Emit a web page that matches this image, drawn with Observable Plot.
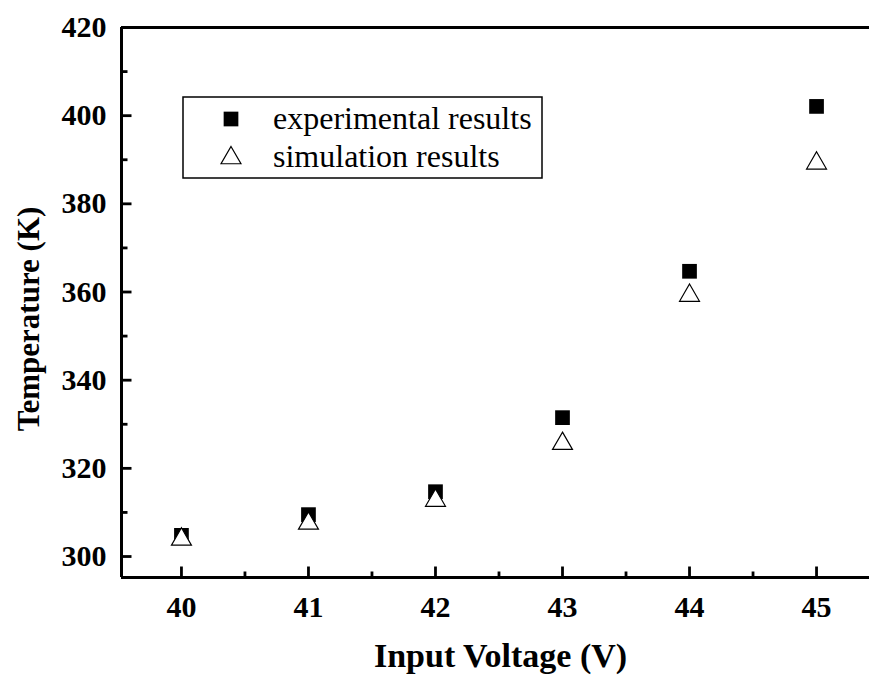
<!DOCTYPE html>
<html><head><meta charset="utf-8">
<script src="https://cdn.jsdelivr.net/npm/d3@7"></script>
<script src="https://cdn.jsdelivr.net/npm/@observablehq/plot@0.6"></script>
<style>body{margin:0;background:#fff;} svg{display:block;}</style>
</head><body><div id="chart"></div>
<script>
const voltage = [40, 41, 42, 43, 44, 45];
const experimental = [304.8, 309.5, 314.7, 331.5, 364.7, 402.1];
const simulation = [303.9, 307.5, 312.7, 325.6, 359.2, 389.2];
const seriesNames = ["experimental results", "simulation results"];
const xMajorTicks = [40, 41, 42, 43, 44, 45];
const xMinorTicks = [40.5, 41.5, 42.5, 43.5, 44.5];
const yMajorTicks = [300, 320, 340, 360, 380, 400, 420];
const yMinorTicks = [310, 330, 350, 370, 390, 410];
const xTitle = "Input Voltage (V)";
const yTitle = "Temperature (K)";

const xDomain = [39.528, 45.417];
const yDomain = [295.24, 420];

const expData = voltage.map((v, i) => ({v, t: experimental[i]}));
const simData = voltage.map((v, i) => ({v, t: simulation[i]}));

function lineSymbol(dx, dy) {
  return {draw(ctx) { ctx.moveTo(0, 0); ctx.lineTo(dx, dy); }};
}
const serif = "'Liberation Serif', 'Times New Roman', serif";
const fmt = d3.format("d");

const plot = Plot.plot({
  width: 869, height: 678,
  marginLeft: 121, marginRight: 0, marginTop: 27, marginBottom: 101,
  x: {domain: xDomain},
  y: {domain: yDomain},
  style: {fontFamily: serif, background: "#fff", color: "#000", overflow: "visible"},
  marks: [
    // tick labels
    Plot.axisX(xMajorTicks, {anchor: "bottom", tickSize: 0, tickPadding: 18, tickFormat: fmt, fontSize: 30, fontWeight: "bold", label: null}),
    Plot.axisY(yMajorTicks, {anchor: "left", tickSize: 0, tickPadding: 15, tickFormat: fmt, fontSize: 30, fontWeight: "bold", label: null}),
    // inward ticks
    Plot.dot(xMajorTicks, {x: d => d, y: () => yDomain[0], symbol: lineSymbol(0, -11), stroke: "#000", strokeWidth: 2.8, fill: "none"}),
    Plot.dot(xMinorTicks, {x: d => d, y: () => yDomain[0], symbol: lineSymbol(0, -6), stroke: "#000", strokeWidth: 2.8, fill: "none"}),
    Plot.dot(yMajorTicks, {y: d => d, x: () => xDomain[0], symbol: lineSymbol(10, 0), stroke: "#000", strokeWidth: 2.8, fill: "none"}),
    Plot.dot(yMinorTicks, {y: d => d, x: () => xDomain[0], symbol: lineSymbol(6, 0), stroke: "#000", strokeWidth: 2.8, fill: "none"}),
    // axis lines
    Plot.ruleX([xDomain[0]], {stroke: "#000", strokeWidth: 3}),
    Plot.ruleY([yDomain[0]], {stroke: "#000", strokeWidth: 3}),
    Plot.ruleY([yDomain[1]], {stroke: "#000", strokeWidth: 3}),
    // data
    Plot.dot(expData, {x: "v", y: "t", symbol: "square", fill: "#000", r: 8.3}),
    Plot.dot(simData, {x: "v", y: "t", symbol: "triangle", fill: "#fff", stroke: "#000", strokeWidth: 1.2, r: 7.4}),
    // x title
    Plot.text([xTitle], {frameAnchor: "bottom", text: d => d, dx: 5, dy: 79, lineAnchor: "middle", fontSize: 34, fontWeight: "bold"})
  ]
});
document.getElementById("chart").appendChild(plot);

const svg = d3.select(plot);
// y title
svg.append("text")
  .attr("transform", "translate(39,319) rotate(-90)")
  .attr("text-anchor", "middle")
  .attr("font-family", serif).attr("font-size", 31).attr("font-weight", "bold")
  .attr("fill", "#000")
  .text(yTitle);

// legend
const lg = svg.append("g").attr("font-family", serif).attr("font-size", 32).attr("text-anchor", "start").attr("fill", "#000");
lg.append("rect").attr("x", 183).attr("y", 97).attr("width", 359).attr("height", 81)
  .attr("fill", "#fff").attr("stroke", "#000").attr("stroke-width", 1.5);
lg.append("path").attr("transform", "translate(231,119)")
  .attr("d", d3.symbol(d3.symbolSquare, Math.PI * 8.3 * 8.3)()).attr("fill", "#000");
lg.append("path").attr("transform", "translate(231,158)")
  .attr("d", d3.symbol(d3.symbolTriangle, Math.PI * 7.4 * 7.4)()).attr("fill", "#fff").attr("stroke", "#000").attr("stroke-width", 1.2);
lg.append("text").attr("x", 273).attr("y", 129).text(seriesNames[0]);
lg.append("text").attr("x", 273).attr("y", 167).text(seriesNames[1]);
</script>
</body></html>
